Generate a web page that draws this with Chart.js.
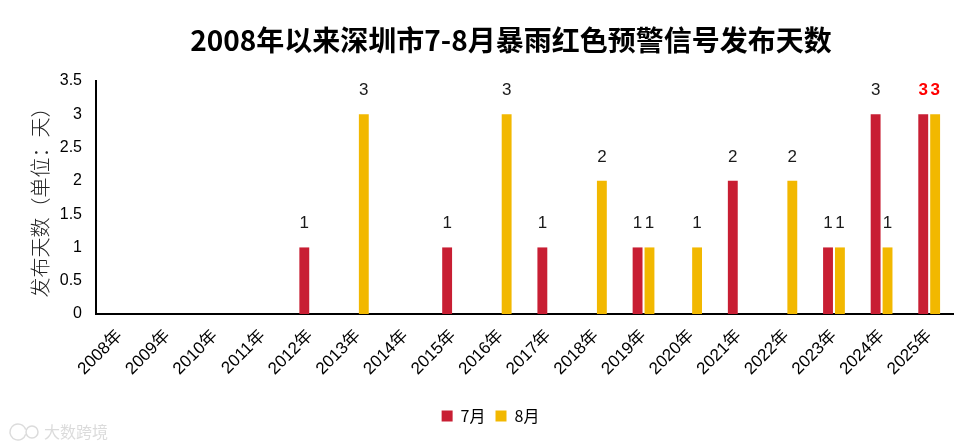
<!DOCTYPE html>
<html><head><meta charset="utf-8">
<script src="https://cdn.jsdelivr.net/npm/chart.js@4/dist/chart.umd.min.js"></script>
<style>html,body{margin:0;padding:0;background:#fff}#wrap{width:977px;height:448px;position:relative}</style>
</head><body><div id="wrap"><canvas id="c" width="977" height="448"></canvas></div>
<script>
const years = ['2008年','2009年','2010年','2011年','2012年','2013年','2014年','2015年','2016年','2017年','2018年','2019年','2020年','2021年','2022年','2023年','2024年','2025年'];
const july   = [0,0,0,0,1,0,0,1,0,1,0,1,0,2,0,1,3,3];
const august = [0,0,0,0,0,3,0,0,3,0,2,1,1,0,2,1,1,3];
const yTicks = [0,0.5,1,1.5,2,2.5,3,3.5];
const seriesNames = ['7月','8月'];
const titleText = '2008年以来深圳市7-8月暴雨红色预警信号发布天数';
const yTitle = '发布天数（单位：天）';

const labelPlugin = {
  id:'vlabels',
  afterDatasetsDraw(chart){
    const ctx = chart.ctx;
    chart.data.datasets.forEach((ds,di)=>{
      const meta = chart.getDatasetMeta(di);
      meta.data.forEach((bar,i)=>{
        const v = ds.data[i];
        if(!v) return;
        const last = i === ds.data.length-1;
        ctx.save();
        ctx.font = (last?'bold ':'') + '17px "Liberation Sans", "Noto Sans", sans-serif';
        ctx.fillStyle = last ? '#FF0000' : '#1a1a1a';
        ctx.textAlign='center'; ctx.textBaseline='middle';
        ctx.fillText(String(v), bar.x, bar.y-24);
        ctx.restore();
      });
    });
  }
};
const titlePlugin = {
  id:'ctitle',
  afterDraw(chart){
    const ctx=chart.ctx; ctx.save();
    ctx.font='bold 28px "Noto Sans CJK SC", sans-serif';
    ctx.fillStyle='#000'; ctx.textAlign='center'; ctx.textBaseline='middle';
    ctx.fillText(titleText, 511, 40);
    ctx.restore();
  }
};
const watermark = {
  id:'wm',
  afterDraw(chart){
    const ctx=chart.ctx; ctx.save();
    ctx.font='16px "Noto Sans CJK SC", sans-serif';
    ctx.fillStyle='rgba(190,190,190,0.55)';
    ctx.textBaseline='middle';
    ctx.fillText('大数跨境', 44, 432);
    ctx.strokeStyle='rgba(190,190,190,0.55)'; ctx.lineWidth=1.5;
    ctx.beginPath(); ctx.arc(18,432,8,0.3,Math.PI*2-0.3); ctx.stroke();
    ctx.beginPath(); ctx.arc(32,432,6,0,Math.PI*2); ctx.stroke();
    ctx.restore();
  }
};

new Chart(document.getElementById('c'),{
  type:'bar',
  data:{labels:years,datasets:[
    {label:seriesNames[0],data:july,backgroundColor:'#C81E33',barPercentage:0.83,categoryPercentage:0.5},
    {label:seriesNames[1],data:august,backgroundColor:'#F2B800',barPercentage:0.83,categoryPercentage:0.5}
  ]},
  options:{
    responsive:false,animation:false,
    layout:{padding:{top:81,right:24,bottom:14,left:28}},
    plugins:{
      title:{display:false},
      legend:{position:'bottom',labels:{boxWidth:11,boxHeight:11,padding:10,color:'#000',font:{family:'"Noto Sans CJK SC", sans-serif',size:16}}},
      tooltip:{enabled:false}
    },
    scales:{
      x:{
        grid:{display:false,drawTicks:false},
        border:{color:'#000',width:2},
        ticks:{color:'#000',maxRotation:45,minRotation:45,padding:12,autoSkip:false,font:{family:'"Liberation Sans", "Noto Sans CJK SC", sans-serif',size:17}},
        afterFit(s){s.height=84;}
      },
      y:{
        min:0,max:3.5,
        grid:{display:false,drawTicks:false},
        border:{color:'#000',width:2},
        afterBuildTicks(s){s.ticks=yTicks.map(v=>({value:v}));},
        ticks:{color:'#000',padding:14,font:{family:'"Liberation Sans", sans-serif',size:16},callback:(v)=>String(v)},
        title:{display:true,text:yTitle,color:'#222',padding:{top:0,bottom:0},font:{family:'"Noto Sans CJK SC", sans-serif',size:20,weight:300}},
        afterFit(s){s.width=68;}
      }
    }
  },
  plugins:[labelPlugin,titlePlugin,watermark]
});
</script></body></html>
